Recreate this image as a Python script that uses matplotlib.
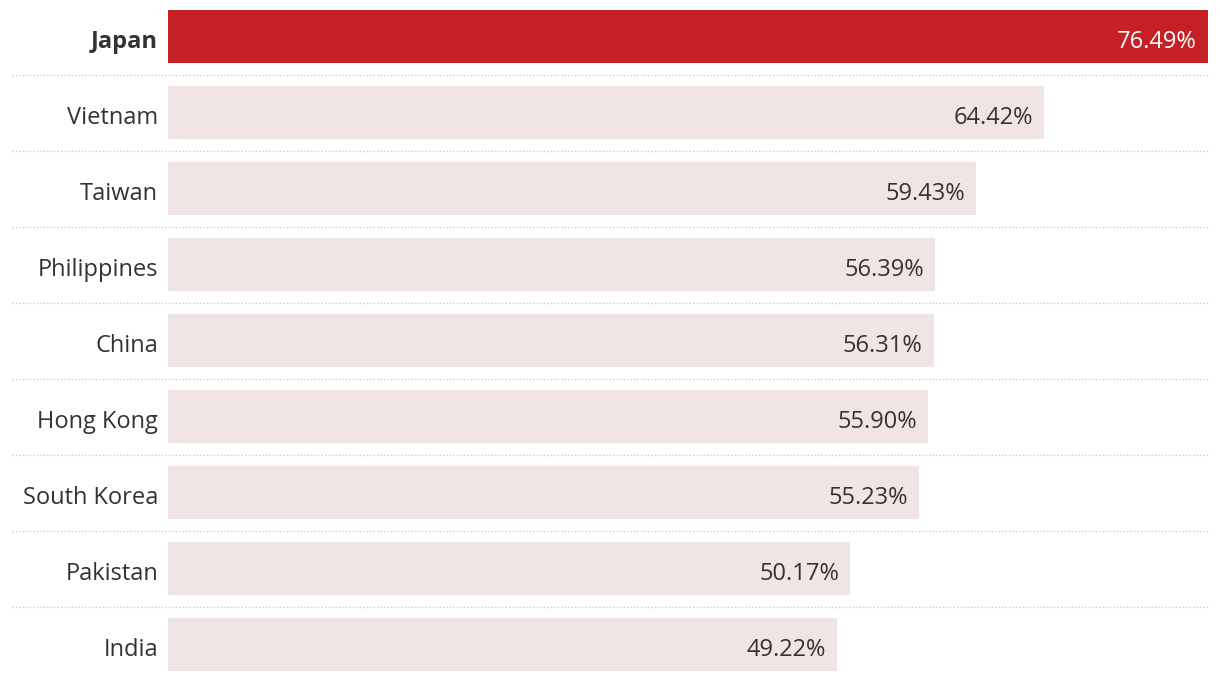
import matplotlib
matplotlib.use('Agg')
import matplotlib.pyplot as plt

# Data
countries = ['Japan', 'Vietnam', 'Taiwan', 'Philippines', 'China',
             'Hong Kong', 'South Korea', 'Pakistan', 'India']
values = [76.49, 64.42, 59.43, 56.39, 56.31, 55.90, 55.23, 50.17, 49.22]
highlight = 'Japan'

RED = '#c42026'
PALE = '#f1e4e4'
TEXT = '#333333'

plt.rcParams['font.family'] = ['Open Sans', 'DejaVu Sans']

W, H = 1220, 682
fig = plt.figure(figsize=(W / 100, H / 100), dpi=100)
# axes spans the bar area horizontally (px 168..1208), full height
ax = fig.add_axes([168 / W, 0, 1040 / W, 1])

n = len(countries)
pitch = 76
xmax = max(values)
ax.set_xlim(0, xmax)
ax.set_ylim((H - 36.5) / pitch, -36.5 / pitch)
ax.axis('off')

px = xmax / 1040     # one pixel in x data units
base = 11 / pitch    # baseline offset below bar centre

for i, (c, v) in enumerate(zip(countries, values)):
    hl = c == highlight
    ax.barh(i, v, height=53 / pitch, color=RED if hl else PALE, linewidth=0)
    ax.text(-10 * px, i + base, c, ha='right', va='baseline',
            fontsize=17, color=TEXT, fontweight='bold' if hl else 'normal')
    ax.text(v - 11 * px, i + base, f'{v:.2f}%', ha='right', va='baseline',
            fontsize=17, color='white' if hl else TEXT)

# dotted separators between rows
trans = ax.get_yaxis_transform()
for i in range(n - 1):
    ax.plot([-156 / 1040, 1], [i + 0.5, i + 0.5], transform=trans, clip_on=False,
            color='#cccccc', linewidth=1, linestyle=(0, (1, 1.5)))

fig.savefig('out.png', dpi=100)
